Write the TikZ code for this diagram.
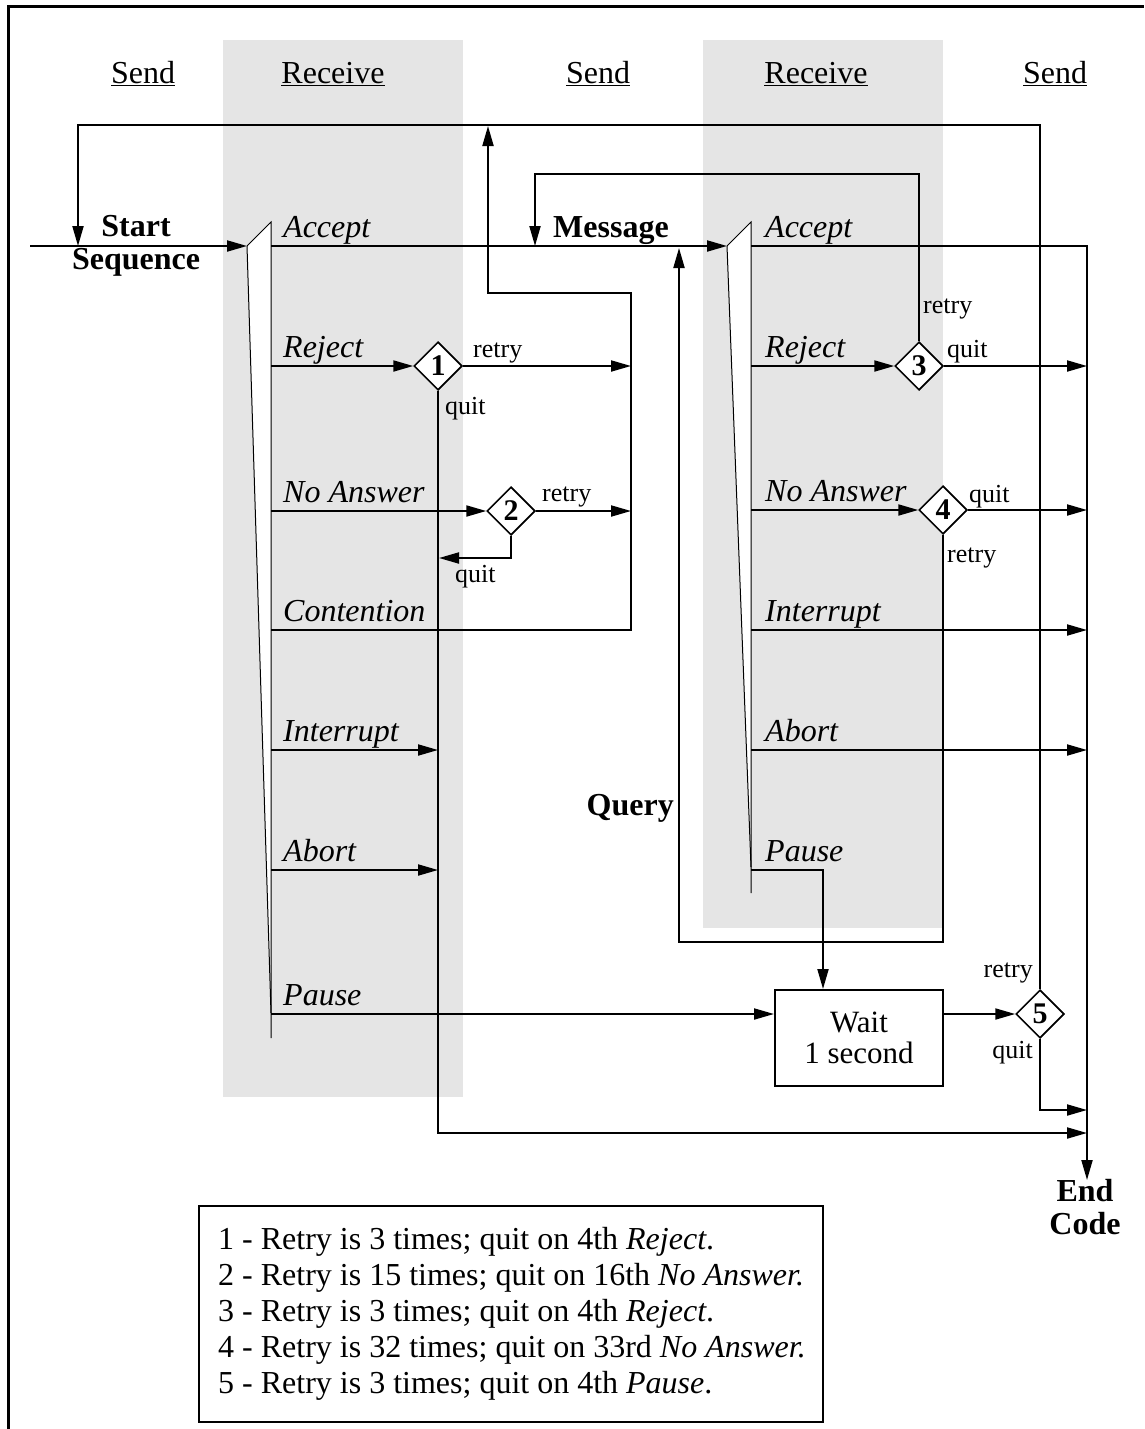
\documentclass[tikz,border=0pt]{standalone}
\usepackage{fontspec}
\setmainfont{Liberation Serif}
\usetikzlibrary{arrows.meta,shapes.geometric}
\definecolor{bandgray}{HTML}{E5E5E5}
\begin{document}
\begin{tikzpicture}[x=1pt,y=-1pt,
  ln/.style={line width=2pt},
  arr/.style={line width=2pt,-{Triangle[length=20pt,width=11pt]}},
  dia/.style={draw,diamond,line width=1.5pt,fill=white,minimum width=48pt,minimum height=48pt,inner sep=0pt,font=\fontsize{30}{30}\selectfont\bfseries},
  lab/.style={anchor=base west,inner sep=0pt,font=\fontsize{32}{36}\selectfont\itshape},
  sm/.style={inner sep=0pt,font=\fontsize{26}{28}\selectfont},
  hd/.style={anchor=base,inner sep=0pt,font=\fontsize{32}{36}\selectfont},
  bl/.style={inner sep=0pt,align=center,font=\fontsize{32}{33}\selectfont\bfseries},
  barline/.style={draw,line width=1pt}]
\useasboundingbox (0,0) rectangle (1144,1429);
\fill[white] (0,0) rectangle (1144,1429);
% bands
\fill[bandgray] (223,40) rectangle (463,1097);
\fill[bandgray] (703,40) rectangle (943,928);
% frame
\draw[line width=3pt] (8,1429) -- (8,7) -- (1144,7);
% headers
\node[hd] (h1) at (143,83) {\underline{Send}};
\node[hd] (h2) at (333,83) {\underline{Receive}};
\node[hd] (h3) at (598,83) {\underline{Send}};
\node[hd] (h4) at (816,83) {\underline{Receive}};
\node[hd] (h5) at (1055,83) {\underline{Send}};
% receive bars
\fill[white] (247,246) -- (271,222) -- (271,1013) -- cycle;
\draw[barline] (247,246) -- (271,222) -- (271,1038);
\draw[barline] (247,246) -- (271,1013);
\fill[white] (727,246) -- (751,222) -- (751,867) -- cycle;
\draw[barline] (727,246) -- (751,222) -- (751,893);
\draw[barline] (727,246) -- (751,867);
% coordinates
\coordinate (startin) at (30,246);
\coordinate (bar1in) at (247,246);
\coordinate (bar2in) at (727,246);
\coordinate (toprl) at (1040,125);
\coordinate (topll) at (78,125);
\coordinate (startpt) at (78,246);
\coordinate (msgpt) at (535,246);
\coordinate (endcol) at (1087,246);
\coordinate (endtip) at (1087,1180);
% diamonds and box
\node[dia] (d1) at (438,366) {1};
\node[dia] (d2) at (511,511) {2};
\node[dia] (d3) at (919,366) {3};
\node[dia] (d4) at (943,510) {4};
\node[dia] (d5) at (1040,1014) {5};
\node[draw,line width=2pt,minimum width=168pt,minimum height=96pt,inner sep=0pt,align=center,font=\fontsize{31}{31}\selectfont] (wait) at (859,1038) {Wait\\1 second};
% start
\draw[arr] (startin) -- (bar1in);
\draw[arr] (d5.north) -- (toprl) -- (topll) -- (startpt);
% bar 1 outputs
\draw[arr] (271,246) -- (bar2in);
\draw[arr] (271,630) -- (631,630) -- (631,293) -- (488,293) -- (488,126);
\draw[arr] (271,366) -- (d1.west);
\draw[arr] (d1.east) -- (631,366);
\draw[arr] (d1.south) -- (438,1133) -- (1087,1133);
\draw[arr] (271,511) -- (d2.west);
\draw[arr] (d2.east) -- (631,511);
\draw[arr] (d2.south) -- (511,558) -- (439,558);
\draw[arr] (271,750) -- (438,750);
\draw[arr] (271,870) -- (438,870);
\draw[arr] (271,1014) -- (wait.west |- 0,1014);
\draw[arr] (wait.east |- 0,1014) -- (d5.west);
\draw[arr] (d5.south) -- (1040,1110) -- (1087,1110);
% bar 2 outputs
\draw[arr] (751,246) -- (endcol) -- (endtip);
\draw[arr] (d3.north) -- (919,174) -- (535,174) -- (msgpt);
\draw[arr] (751,366) -- (d3.west);
\draw[arr] (d3.east) -- (1087,366);
\draw[arr] (751,510) -- (d4.west);
\draw[arr] (d4.east) -- (1087,510);
\draw[arr] (d4.south) -- (943,942) -- (679,942) -- (679,248);
\draw[arr] (751,630) -- (1087,630);
\draw[arr] (751,750) -- (1087,750);
\draw[arr] (751,870) -- (823,870) -- (wait.north -| 823,0);
% redraw diamonds on top
\node[dia] at (d1) {1};
\node[dia] at (d2) {2};
\node[dia] at (d3) {3};
\node[dia] at (d4) {4};
\node[dia] at (d5) {5};
% bar labels
\node[lab] (l1a) at (283,237) {Accept};
\node[lab] (l1b) at (283,357) {Reject};
\node[lab] (l1c) at (283,502) {No Answer};
\node[lab] (l1d) at (283,621) {Contention};
\node[lab] (l1e) at (283,741) {Interrupt};
\node[lab] (l1f) at (283,861) {Abort};
\node[lab] (l1g) at (283,1005) {Pause};
\node[lab] (l2a) at (765,237) {Accept};
\node[lab] (l2b) at (765,357) {Reject};
\node[lab] (l2c) at (765,501) {No Answer};
\node[lab] (l2d) at (765,621) {Interrupt};
\node[lab] (l2e) at (765,741) {Abort};
\node[lab] (l2f) at (765,861) {Pause};
% bold labels
\node[bl] (startlab) at (136,246) {Start\\Sequence};
\node[bl,anchor=base west] (msglab) at (553,237) {Message};
\node[bl,anchor=base east] (qlab) at (674,815) {Query};
\node[bl] (endlab) at (1085,1207) {End\\Code};
% small labels
\node[sm,anchor=west] (r1) at (473,353) {retry};
\node[sm,anchor=west] (q1) at (445,409) {quit};
\node[sm,anchor=west] (r2) at (542,497) {retry};
\node[sm,anchor=west] (q2) at (455,577) {quit};
\node[sm,anchor=west] (r3) at (923,309) {retry};
\node[sm,anchor=west] (q3) at (947,352) {quit};
\node[sm,anchor=west] (q4) at (969,497) {quit};
\node[sm,anchor=west] (r4) at (947,558) {retry};
\node[sm,anchor=east] (r5) at (1033,973) {retry};
\node[sm,anchor=east] (q5) at (1033,1053) {quit};
% legend
\draw[line width=2pt] (199,1206) rectangle (823,1422);
\node[anchor=west,inner sep=0pt,align=left,font=\fontsize{32}{36}\selectfont] (legend) at (218,1314) {1 - Retry is 3 times; quit on 4th \textit{Reject}.\\
2 - Retry is 15 times; quit on 16th \textit{No Answer.}\\
3 - Retry is 3 times; quit on 4th \textit{Reject}.\\
4 - Retry is 32 times; quit on 33rd \textit{No Answer.}\\
5 - Retry is 3 times; quit on 4th \textit{Pause}.};
\end{tikzpicture}
\end{document}
